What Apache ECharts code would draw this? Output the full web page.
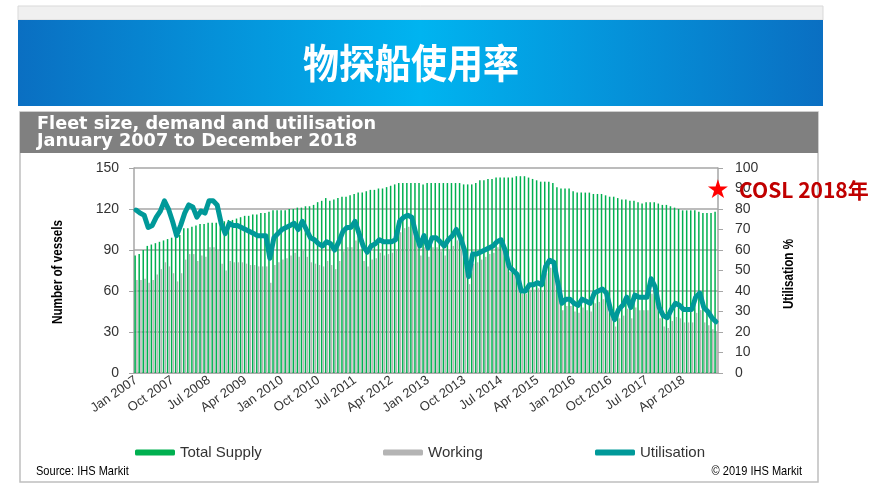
<!DOCTYPE html>
<html>
<head>
<meta charset="utf-8">
<script src="https://cdn.jsdelivr.net/npm/echarts@6/dist/echarts.min.js"></script>
<style>
html,body{margin:0;padding:0;background:#fff;}
#c{width:893px;height:488px;}
</style>
</head>
<body>
<div id="c"></div>
<script>
// ---- Data ----
var monthNames = ['Jan','Feb','Mar','Apr','May','Jun','Jul','Aug','Sep','Oct','Nov','Dec'];
var years = [2007,2008,2009,2010,2011,2012,2013,2014,2015,2016,2017,2018];
var categories = [];
years.forEach(function(y){ monthNames.forEach(function(m){ categories.push(m + ' ' + y); }); });

var totalSupply = [
  86, 87, 90, 93, 94, 95, 96, 97, 98, 99, 100, 101,
  106, 106, 107, 108, 109, 109, 110, 110, 110, 110, 111, 112,
  112, 113, 114, 115, 115, 116, 116, 117, 117, 118, 119, 119,
  119, 119, 120, 120, 121, 121, 122, 122, 123, 125, 126, 128,
  126, 127, 128, 129, 129, 130, 131, 132, 132, 133, 134, 134,
  135, 135, 136, 137, 138, 139, 139, 139, 139, 139, 139, 138,
  139, 139, 139, 139, 139, 139, 139, 139, 139, 138, 138, 138,
  139, 141, 141, 142, 142, 143, 143, 143, 143, 143, 144, 144,
  144, 143, 142, 141, 140, 140, 140, 139, 136, 135, 135, 135,
  133, 132, 132, 132, 132, 131, 131, 131, 130, 129, 129, 128,
  127, 127, 126, 126, 125, 124, 125, 125, 125, 124, 123, 123,
  122, 121, 120, 119, 119, 119, 119, 118, 117, 117, 117, 118
];
var working = [
  68, 68, 69, 66, 68, 72, 76, 81, 78, 73, 67, 73,
  83, 87, 87, 82, 86, 85, 92, 92, 90, 80, 75, 82,
  81, 81, 81, 80, 79, 79, 78, 78, 78, 66, 79, 81,
  83, 84, 86, 88, 85, 90, 85, 81, 80, 79, 78, 82,
  79, 76, 82, 89, 92, 92, 97, 90, 82, 78, 83, 84,
  88, 86, 87, 88, 90, 103, 106, 107, 106, 95, 86, 92,
  85, 92, 92, 89, 86, 90, 93, 97, 92, 83, 65, 80,
  81, 83, 85, 87, 88, 92, 93, 86, 74, 72, 69, 58,
  58, 61, 61, 62, 60, 73, 77, 75, 60, 46, 49, 49,
  45, 44, 48, 46, 45, 51, 52, 54, 51, 40, 34, 40,
  42, 47, 40, 48, 46, 46, 46, 58, 53, 40, 34, 33,
  38, 41, 40, 37, 37, 37, 44, 46, 37, 35, 32, 30
];
var utilisation = [
  79.5, 78, 77, 71, 72, 76, 79, 84, 80, 74, 67, 72,
  78, 82, 81, 76, 79, 78, 84, 84, 82, 73, 68, 73,
  72, 72, 71, 70, 69, 68, 67, 67, 67, 56, 66, 68,
  70, 71, 72, 73, 70, 74, 70, 66, 65, 63, 62, 64,
  63, 60, 64, 69, 71, 71, 74, 68, 62, 59, 62, 63,
  65, 64, 64, 64, 65, 74, 76, 77, 76, 68, 62, 67,
  61, 66, 66, 64, 62, 65, 67, 70, 66, 60, 47, 58,
  58, 59, 60, 61, 62, 64, 65, 60, 52, 50, 48, 40,
  40, 43, 43, 44, 43, 52, 55, 54, 44, 34, 36, 36,
  34, 33, 36, 35, 34, 39, 40, 41, 39, 31, 26, 31,
  33, 37, 32, 38, 37, 37, 37, 46, 42, 32, 28, 27,
  31, 34, 33, 31, 31, 31, 37, 39, 32, 30, 27, 25
];
var leftTicks = {min: 0, max: 150, interval: 30};
var rightTicks = {min: 0, max: 100, interval: 10};

var chart = echarts.init(document.getElementById('c'), null, {renderer: 'canvas'});
var fontLatin = 'Liberation Sans, Arial, sans-serif';

function legendAt(left, name, color) {
  return {
    left: left, top: 440,
    itemWidth: 40, itemHeight: 6,
    icon: 'roundRect',
    textStyle: {fontFamily: fontLatin, fontSize: 15, color: '#333'},
    data: [{name: name, itemStyle: {color: color}}]
  };
}

var option = {
  animation: false,
  backgroundColor: '#ffffff',
  grid: {left: 134, right: 175, top: 168, bottom: 115, containLabel: false},
  legend: [
    legendAt(130, 'Total Supply', '#00b050'),
    legendAt(378, 'Working', '#b4b4b4'),
    legendAt(590, 'Utilisation', '#009999')
  ],
  xAxis: {
    type: 'category',
    data: categories,
    boundaryGap: true,
    axisLine: {lineStyle: {color: '#a6a6a6', width: 1.5}},
    axisTick: {interval: 8, length: 4, lineStyle: {color: '#a6a6a6'}},
    axisLabel: {interval: 8, rotate: 35, fontFamily: fontLatin, fontSize: 13, color: '#333', margin: 6},
    splitLine: {show: false}
  },
  yAxis: [
    {
      type: 'value', min: leftTicks.min, max: leftTicks.max, interval: leftTicks.interval,
      axisLine: {show: true, lineStyle: {color: '#a6a6a6', width: 1.5}},
      axisTick: {show: true, length: 5, lineStyle: {color: '#a6a6a6'}},
      axisLabel: {fontFamily: fontLatin, fontSize: 14, color: '#333', margin: 15},
      splitLine: {show: true, lineStyle: {color: '#a6a6a6', width: 1.5}}
    },
    {
      type: 'value', min: rightTicks.min, max: rightTicks.max, interval: rightTicks.interval,
      position: 'right',
      axisLine: {show: true, lineStyle: {color: '#a6a6a6', width: 1.5}},
      axisTick: {show: true, length: 5, lineStyle: {color: '#a6a6a6'}},
      axisLabel: {fontFamily: fontLatin, fontSize: 14, color: '#333', margin: 17},
      splitLine: {show: false}
    }
  ],
  series: [
    {
      name: 'Total Supply', type: 'bar', data: totalSupply,
      barWidth: 1.5, barGap: '20%',
      itemStyle: {color: '#00b050'}
    },
    {
      name: 'Working', type: 'bar', data: working,
      barWidth: 1.5, barGap: '20%',
      itemStyle: {color: '#b4b4b4'}
    },
    {
      name: 'Utilisation', type: 'line', yAxisIndex: 1, data: utilisation,
      symbol: 'none', smooth: false, z: 5,
      lineStyle: {color: '#009999', width: 5, join: 'round', cap: 'round'},
      itemStyle: {color: '#009999'}
    }
  ],
  graphic: [
    {type: 'rect', z: -10, shape: {x: 18, y: 6, width: 805, height: 14}, style: {fill: '#f0f0f0', stroke: '#d9d9d9', lineWidth: 1}},
    {type: 'rect', z: -10, shape: {x: 18, y: 20, width: 805, height: 86},
      style: {fill: new echarts.graphic.LinearGradient(0, 0, 1, 0, [
        {offset: 0, color: '#0a6fc2'}, {offset: 0.5, color: '#00b4f0'}, {offset: 1, color: '#0a6fc2'}
      ])}},
    {type: 'text', z: 10, x: 411, y: 63, scaleX: 0.9, style: {text: '物探船使用率', align: 'center', verticalAlign: 'middle',
      fill: '#ffffff', font: 'bold 40px "Noto Sans CJK SC", sans-serif'}},
    {type: 'rect', z: -10, shape: {x: 20, y: 112, width: 798, height: 370}, style: {fill: '#ffffff', stroke: '#bfbfbf', lineWidth: 1.5}},
    {type: 'rect', z: -9, shape: {x: 20, y: 112, width: 798, height: 41}, style: {fill: '#808080'}},
    {type: 'text', z: 10, x: 37, y: 125, scaleX: 1.04, style: {text: 'Fleet size, demand and utilisation', verticalAlign: 'middle',
      fill: '#ffffff', font: 'bold 17px "DejaVu Sans", sans-serif'}},
    {type: 'text', z: 10, x: 37, y: 142, scaleX: 1.04, style: {text: 'January 2007 to December 2018', verticalAlign: 'middle',
      fill: '#ffffff', font: 'bold 17px "DejaVu Sans", sans-serif'}},
    {type: 'text', z: 10, rotation: Math.PI / 2, x: 58, y: 272, scaleX: 0.78, style: {text: 'Number of vessels', align: 'center', verticalAlign: 'middle',
      fill: '#000', font: 'bold 15px ' + fontLatin}},
    {type: 'text', z: 10, rotation: Math.PI / 2, x: 789, y: 274, scaleX: 0.78, style: {text: 'Utilisation %', align: 'center', verticalAlign: 'middle',
      fill: '#000', font: 'bold 15px ' + fontLatin}},
    {type: 'text', z: 10, x: 36, y: 471, scaleX: 0.85, style: {text: 'Source: IHS Markit', verticalAlign: 'middle',
      fill: '#000', font: '13px ' + fontLatin}},
    {type: 'text', z: 10, x: 802, y: 471, scaleX: 0.85, style: {text: '© 2019 IHS Markit', align: 'right', verticalAlign: 'middle',
      fill: '#000', font: '13px ' + fontLatin}},
    {type: 'text', z: 20, style: {text: '★', x: 718, y: 191, align: 'center', verticalAlign: 'middle',
      fill: '#ff0000', font: '26px "DejaVu Sans", sans-serif'}},
    {type: 'text', z: 20, style: {text: 'COSL 2018年', x: 739, y: 190, verticalAlign: 'middle',
      fill: '#c00000', font: 'bold 21px "Noto Sans CJK SC", sans-serif'}}
  ]
};
chart.setOption(option);
</script>
</body>
</html>
